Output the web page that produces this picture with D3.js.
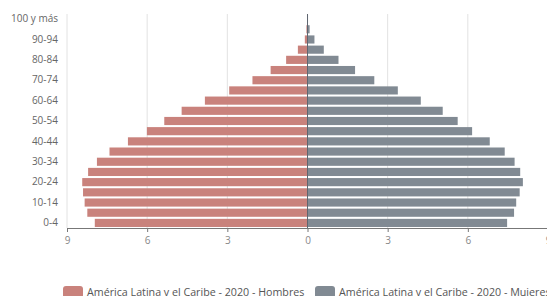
<!DOCTYPE html>
<html>
<head>
<meta charset="utf-8">
<script src="https://cdn.jsdelivr.net/npm/d3@7"></script>
<style>
  body { margin: 0; background: #fff; font-family: "Open Sans", sans-serif; }
  svg { display: block; }
</style>
</head>
<body>
<div id="chart"></div>
<script>
const ageGroups = ['0-4', '5-9', '10-14', '15-19', '20-24', '25-29', '30-34', '35-39',
  '40-44', '45-49', '50-54', '55-59', '60-64', '65-69', '70-74', '75-79', '80-84',
  '85-89', '90-94', '95-99', '100 y más'];

// percent of total population
const hombres = [7.96, 8.24, 8.34, 8.40, 8.43, 8.21, 7.88, 7.41, 6.72, 6.01, 5.36,
  4.71, 3.84, 2.93, 2.06, 1.38, 0.80, 0.36, 0.10, 0.04, 0.01];
const mujeres = [7.47, 7.73, 7.81, 7.94, 8.06, 7.96, 7.75, 7.38, 6.82, 6.16, 5.62,
  5.06, 4.24, 3.38, 2.50, 1.78, 1.16, 0.61, 0.26, 0.08, 0.02];

const xTicks = [-9, -6, -3, 0, 3, 6, 9];
const gridTicks = [-9, -6, -3, 3, 6, 9];
const legendLabels = ['América Latina y el Caribe - 2020 - Hombres', 'América Latina y el Caribe - 2020 - Mujeres'];

const colors = { hombres: '#c9827c', mujeres: '#818a93' };

const width = 547, height = 296;
const margin = { top: 14, left: 67, right: 0, bottom: 68 };

const svg = d3.select('#chart')
  .append('svg')
  .attr('width', width)
  .attr('height', height);

const x = d3.scaleLinear()
  .domain([-9, 9])
  .range([margin.left, 548]);

const y = d3.scaleBand()
  .domain(ageGroups)
  .range([height - margin.bottom, margin.top])
  .paddingInner(0.2)
  .paddingOuter(0.1);

// gridlines
svg.append('g')
  .selectAll('line')
  .data(gridTicks)
  .enter()
  .append('line')
  .attr('x1', d => x(d))
  .attr('x2', d => x(d))
  .attr('y1', margin.top)
  .attr('y2', height - margin.bottom)
  .attr('stroke', '#e2e2e2')
  .attr('stroke-width', 1);

const rows = ageGroups.map((g, i) => ({ group: g, h: hombres[i], m: mujeres[i] }));

svg.append('g')
  .selectAll('rect')
  .data(rows)
  .enter()
  .append('rect')
  .attr('x', d => x(-d.h))
  .attr('y', d => y(d.group))
  .attr('width', d => x(0) - x(-d.h))
  .attr('height', y.bandwidth())
  .attr('fill', colors.hombres);

svg.append('g')
  .selectAll('rect')
  .data(rows)
  .enter()
  .append('rect')
  .attr('x', x(0))
  .attr('y', d => y(d.group))
  .attr('width', d => x(d.m) - x(0))
  .attr('height', y.bandwidth())
  .attr('fill', colors.mujeres);

// center line
svg.append('line')
  .attr('x1', x(0))
  .attr('x2', x(0))
  .attr('y1', margin.top)
  .attr('y2', height - margin.bottom)
  .attr('stroke', '#5f6670')
  .attr('stroke-width', 1);

// x axis
const xAxis = svg.append('g')
  .attr('transform', `translate(0,${height - margin.bottom})`)
  .call(d3.axisBottom(x).tickValues(xTicks).tickSize(4).tickFormat(d => Math.abs(d)));
xAxis.select('.domain').attr('stroke', '#777');
xAxis.selectAll('.tick line').attr('stroke', '#777');
xAxis.selectAll('.tick text')
  .attr('fill', '#888')
  .attr('dy', '0.9em')
  .style('font-size', '10px')
  .style('font-family', '"Open Sans", sans-serif');

// y axis labels (every other group)
const yAxis = svg.append('g')
  .attr('transform', `translate(${margin.left - 6},0)`)
  .call(d3.axisLeft(y).tickValues(ageGroups.filter((d, i) => i % 2 === 0)).tickSize(0));
yAxis.select('.domain').remove();
yAxis.selectAll('.tick text')
  .attr('fill', '#666')
  .style('font-size', '10px')
  .style('font-family', '"Open Sans", sans-serif');

// legend
const legend = svg.append('g');
const legendItems = [
  { label: legendLabels[0], color: colors.hombres, x: 63 },
  { label: legendLabels[1], color: colors.mujeres, x: 315 }
];
legendItems.forEach(item => {
  legend.append('rect')
    .attr('x', item.x)
    .attr('y', 286)
    .attr('width', 20)
    .attr('height', 12)
    .attr('rx', 3)
    .attr('fill', item.color);
  legend.append('text')
    .attr('x', item.x + 24)
    .attr('y', 292)
    .attr('dy', '0.35em')
    .attr('fill', '#555')
    .style('font-size', '10.7px')
    .style('font-family', '"Open Sans", sans-serif')
    .text(item.label);
});
</script>
</body>
</html>
